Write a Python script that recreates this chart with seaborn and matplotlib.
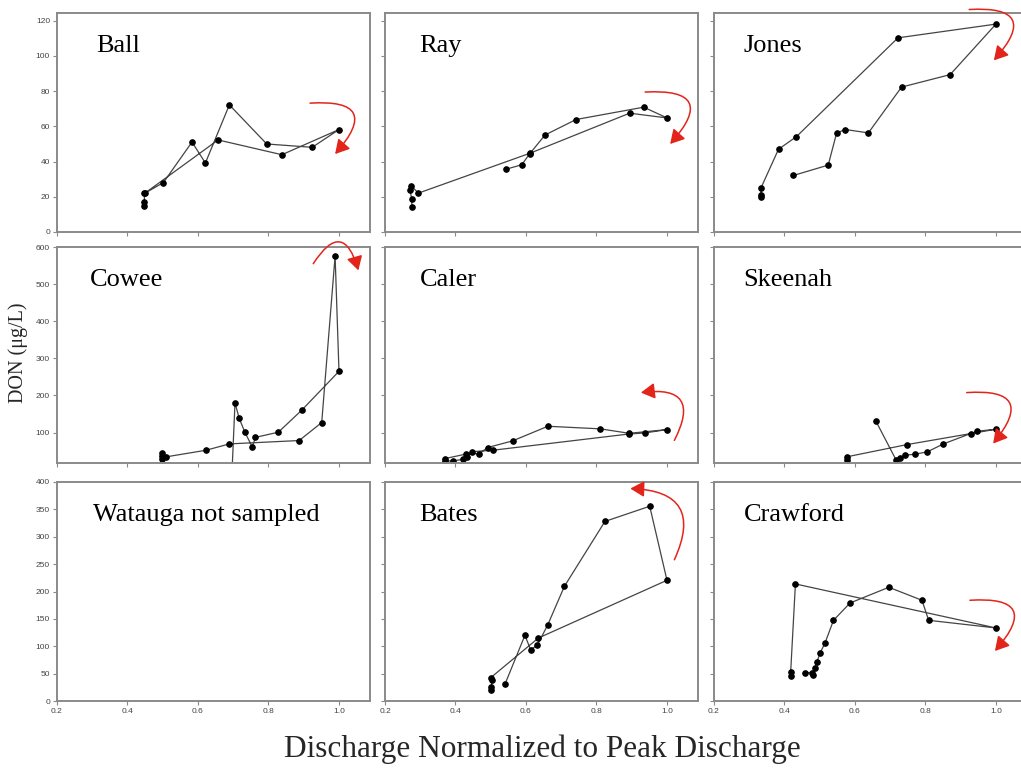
import matplotlib
matplotlib.use("Agg")
import matplotlib.pyplot as plt
import seaborn as sns
import pandas as pd
from matplotlib.patches import FancyArrowPatch

# ---------------- data ----------------
ball_x = [0.446, 0.448, 0.448, 0.502, 0.583, 0.621, 0.689, 0.795, 0.924, 1.000, 0.838, 0.657, 0.449]
ball_y = [14.8, 16.9, 21.9, 28.1, 51.1, 39.2, 72.2, 50.0, 48.1, 58.2, 43.9, 52.3, 22.0]

ray_x = [0.544, 0.588, 0.610, 0.654, 0.742, 0.934, 1.000, 0.894, 0.612, 0.295, 0.274, 0.271, 0.276, 0.276]
ray_y = [35.7, 38.2, 44.3, 55.1, 63.9, 70.9, 64.8, 67.5, 44.8, 22.1, 26.2, 23.8, 18.6, 14.4]

jones_x = [0.333, 0.333, 0.333, 0.383, 0.434, 0.722, 1.000, 0.870, 0.732, 0.638, 0.573, 0.548, 0.524, 0.425]
jones_y = [20.0, 20.9, 24.9, 47.0, 54.2, 110.3, 118.1, 89.4, 82.3, 56.3, 58.2, 56.3, 38.0, 32.1]

cowee_x = [0.4975, 0.4975, 0.4975, 0.509, 0.623, 0.689, 0.887, 0.951, 0.989, 1.000, 0.894, 0.828,
           0.763, 0.754, 0.733, 0.717, 0.705, 0.697]
cowee_y = [46, 29, 36, 34.5, 52.4, 69.5, 78.5, 127, 576, 265, 160, 101, 87, 61, 101, 138, 180, 5]

caler_x = [0.370, 0.370, 0.394, 0.420, 0.434, 0.446, 0.506, 0.891, 0.937, 1.000, 0.893, 0.811,
           0.662, 0.562, 0.491, 0.468, 0.430, 0.370]
caler_y = [16.5, 23, 24, 27.6, 35, 48.5, 52.4, 96, 99, 108, 98, 110, 117, 77.6, 59.6, 43.5, 42, 30]

skeenah_x = [0.659, 0.716, 0.728, 0.742, 0.770, 0.805, 0.851, 0.928, 0.947, 1.000, 0.748, 0.576, 0.576]
skeenah_y = [131.4, 27.3, 32.7, 39, 41.7, 48, 69.5, 97.3, 103.6, 109, 67.7, 34.5, 25.5]

bates_x = [0.502, 0.502, 0.503, 0.500, 0.635, 1.000, 0.951, 0.824, 0.709, 0.662, 0.632, 0.613, 0.597, 0.541]
bates_y = [20.7, 25.6, 37.8, 42.6, 115, 220.5, 355.7, 328, 209.5, 139.5, 101.7, 93.8, 120, 31.7]

crawford_x = [0.4175, 0.4175, 0.431, 1.000, 0.809, 0.790, 0.696, 0.586, 0.539, 0.515, 0.501, 0.492,
              0.486, 0.482, 0.478, 0.458]
crawford_y = [45.7, 53, 213.8, 133.4, 147.4, 184, 207.7, 179, 147.4, 106, 87.7, 71.3, 61, 47, 51.8, 51.8]

site_names = ["Ball", "Ray", "Jones", "Cowee", "Caler", "Skeenah", "Watauga not sampled", "Bates", "Crawford"]
site_data = [(ball_x, ball_y), (ray_x, ray_y), (jones_x, jones_y),
             (cowee_x, cowee_y), (caler_x, caler_y), (skeenah_x, skeenah_y),
             None, (bates_x, bates_y), (crawford_x, crawford_y)]

x_ticks = [0.2, 0.4, 0.6, 0.8, 1.0]
x_tick_labels = ["0.2", "0.4", "0.6", "0.8", "1.0"]
row_yticks = [[0, 20, 40, 60, 80, 100, 120],
              [100, 200, 300, 400, 500, 600],
              [0, 50, 100, 150, 200, 250, 300, 350, 400]]
row_ylims = [(0, 124.4), (18, 600), (0, 400)]

# hysteresis arrows (start, end, curvature) in data coordinates
arrows = [((0.918, 73.2), (0.989, 44.3), -1.2),
          ((0.938, 79.5), (1.009, 50.0), -1.2),
          ((0.924, 126.4), (0.994, 97.5), -1.2),
          ((0.927, 555), (1.055, 537), -1.1),
          ((1.021, 79), (0.926, 207.7), 0.95),
          ((0.917, 207.7), (0.992, 70.4), -1.15),
          None,
          ((1.021, 258), (0.896, 388), 0.75),
          ((0.926, 184), (0.997, 91.4), -1.2)]
label_x = [0.125, 0.11, 0.095, 0.105, 0.11, 0.095, 0.115, 0.11, 0.095]

# ---------------- figure ----------------
sns.set_style("white")
plt.rcParams['font.family'] = ['Liberation Sans', 'DejaVu Sans']

W, H = 1021, 775
fig = plt.figure(figsize=(W / 100, H / 100), dpi=100)

col_left = [57, 385, 714]
col_w = 313
row_top = [13, 247, 482]
row_bot = [232, 463, 701]

spine_col = '#8a8a8a'
for i, name in enumerate(site_names):
    r, c = divmod(i, 3)
    ax = fig.add_axes([col_left[c] / W, 1 - row_bot[r] / H, col_w / W, (row_bot[r] - row_top[r]) / H])
    d = site_data[i]
    if d is not None:
        df = pd.DataFrame({"q": d[0], "don": d[1]})
        sns.lineplot(data=df, x="q", y="don", sort=False, estimator=None, ax=ax,
                     color='#444444', lw=0.9, marker='o', markersize=4,
                     markerfacecolor='black', markeredgecolor='black')
    ax.set_xlim(0.2, 1.088)
    ax.set_ylim(*row_ylims[r])
    ax.set_xticks(x_ticks)
    ax.set_yticks(row_yticks[r])
    if r == 2:
        ax.set_xticklabels(x_tick_labels)
    else:
        ax.set_xticklabels([])
    if c != 0:
        ax.set_yticklabels([])
    ax.set_xlabel("")
    ax.set_ylabel("")
    ax.tick_params(direction='out', length=3, width=0.8, color=spine_col,
                   labelsize=6, labelcolor='#444444', pad=2,
                   bottom=True, left=True)
    for s in ax.spines.values():
        s.set_color(spine_col)
        s.set_linewidth(1.4)
    ax.text(label_x[i], 0.82, name, transform=ax.transAxes, ha='left', va='baseline',
            fontsize=19, family=['Liberation Serif', 'DejaVu Serif'], color='black')
    a = arrows[i]
    if a is not None:
        arr = FancyArrowPatch(a[0], a[1], connectionstyle=f"arc3,rad={a[2]}",
                              arrowstyle="-|>,head_length=0.7,head_width=0.4",
                              mutation_scale=12, color='#e3241b', lw=1.1,
                              shrinkA=0, shrinkB=0, clip_on=False, zorder=5)
        ax.add_patch(arr)

fig.text(0.018, 0.5445, "DON (μg/L)", rotation=90, ha='center', va='center',
         fontsize=14.5, family=['Liberation Serif', 'DejaVu Serif'])
fig.text(0.531, 1 - 757 / H, "Discharge Normalized to Peak Discharge", ha='center', va='baseline',
         fontsize=22.5, family=['Liberation Serif', 'DejaVu Serif'])

fig.savefig("out.png", dpi=100)
